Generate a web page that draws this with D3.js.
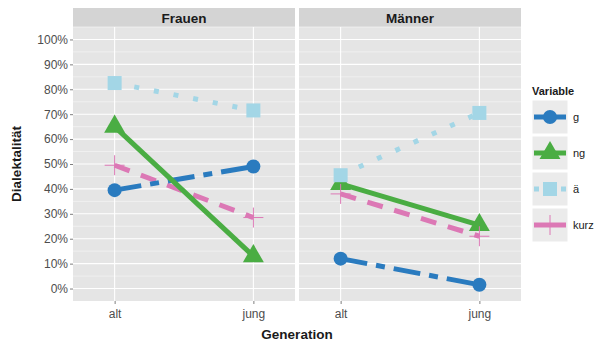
<!DOCTYPE html>
<html><head><meta charset="utf-8">
<script src="https://cdn.jsdelivr.net/npm/d3@7"></script>
<style>body{margin:0;background:#fff}svg{display:block;font-family:"Liberation Sans",Arial,Helvetica,sans-serif}</style>
</head><body><svg id="c" width="595" height="344"></svg>
<script>
const panels = ["Frauen", "Männer"];
const generations = ["alt", "jung"];
const variables = ["g", "ng", "ä", "kurz"];
const yTicks = [0, 0.1, 0.2, 0.3, 0.4, 0.5, 0.6, 0.7, 0.8, 0.9, 1.0];
const frauenG = [0.395, 0.49];
const frauenNg = [0.65, 0.13];
const frauenAe = [0.825, 0.715];
const frauenKurz = [0.495, 0.285];
const maennerG = [0.12, 0.015];
const maennerNg = [0.42, 0.255];
const maennerAe = [0.455, 0.705];
const maennerKurz = [0.38, 0.21];

const values = {
  "Frauen": {"g": frauenG, "ng": frauenNg, "ä": frauenAe, "kurz": frauenKurz},
  "Männer": {"g": maennerG, "ng": maennerNg, "ä": maennerAe, "kurz": maennerKurz}
};
const colors = {"g": "#2a7bbf", "ng": "#4aad43", "ä": "#a3d6e6", "kurz": "#dc78b5"};
const dashes = {"g": "27,9,9,9", "ng": null, "ä": "5,15", "kurz": "16,12"};
const lineW = 5;

const svg = d3.select("#c");
const panelX = {"Frauen": [73, 295], "Männer": [299, 521]};
const pTop = 27, pBottom = 301;
const y = d3.scaleLinear().domain([-0.05, 1.05]).range([pBottom, pTop]);

function shape(g, v, cx, cy) {
  const c = colors[v];
  if (v === "g") g.append("circle").attr("cx", cx).attr("cy", cy).attr("r", 7).attr("fill", c);
  else if (v === "ng") g.append("path").attr("d", d3.symbol(d3.symbolTriangle, 190)()).attr("transform", `translate(${cx},${cy})`).attr("fill", c);
  else if (v === "ä") g.append("rect").attr("x", cx - 7).attr("y", cy - 7).attr("width", 14).attr("height", 14).attr("fill", c);
  else {
    g.append("line").attr("x1", cx - 10).attr("x2", cx + 10).attr("y1", cy).attr("y2", cy).attr("stroke", c).attr("stroke-width", 1);
    g.append("line").attr("x1", cx).attr("x2", cx).attr("y1", cy - 10).attr("y2", cy + 10).attr("stroke", c).attr("stroke-width", 1);
  }
}

panels.forEach(p => {
  const [x0, x1] = panelX[p];
  const x = d3.scalePoint().domain(generations).range([x0, x1]).padding(0.3);
  svg.append("rect").attr("x", x0).attr("y", 8).attr("width", x1 - x0).attr("height", pTop - 8).attr("fill", "#d4d4d4");
  svg.append("text").attr("x", (x0 + x1) / 2).attr("y", 23).attr("text-anchor", "middle")
    .attr("font-size", 13.5).attr("font-weight", "bold").attr("fill", "#1a1a1a").text(p);
  svg.append("rect").attr("x", x0).attr("y", pTop).attr("width", x1 - x0).attr("height", pBottom - pTop).attr("fill", "#e5e5e5");
  const minor = d3.range(-0.05, 1.06, 0.1).filter(v => v > -0.049);
  minor.forEach(v => svg.append("line").attr("x1", x0).attr("x2", x1).attr("y1", y(v)).attr("y2", y(v)).attr("stroke", "#f5f5f5").attr("stroke-width", 0.7));
  yTicks.forEach(v => svg.append("line").attr("x1", x0).attr("x2", x1).attr("y1", y(v)).attr("y2", y(v)).attr("stroke", "#ffffff").attr("stroke-width", 1.1));
  generations.forEach(gen => svg.append("line").attr("x1", x(gen)).attr("x2", x(gen)).attr("y1", pTop).attr("y2", pBottom).attr("stroke", "#ffffff").attr("stroke-width", 1.1));
  const xa = svg.append("g").attr("transform", `translate(0,${pBottom})`)
    .call(d3.axisBottom(x).tickSize(3).tickPadding(5));
  xa.select(".domain").remove();
  xa.selectAll("line").attr("stroke", "#7f7f7f");
  xa.selectAll("text").attr("font-size", 12).attr("fill", "#4d4d4d").attr("font-family", "Liberation Sans, Arial, sans-serif");
  const gl = svg.append("g");
  ["ä", "kurz", "g", "ng"].forEach(v => {
    const line = d3.line().x((d, i) => x(generations[i])).y(d => y(d));
    gl.append("path").attr("d", line(values[p][v])).attr("fill", "none").attr("stroke", colors[v])
      .attr("stroke-width", lineW).attr("stroke-dasharray", dashes[v]);
  });
  const gp = svg.append("g");
  variables.forEach(v => values[p][v].forEach((d, i) => shape(gp, v, x(generations[i]), y(d))));
});

const ya = svg.append("g").attr("transform", `translate(73,0)`)
  .call(d3.axisLeft(y).tickValues(yTicks).tickFormat(d3.format(".0%")).tickSize(3).tickPadding(2));
ya.select(".domain").remove();
ya.selectAll("line").attr("stroke", "#7f7f7f");
ya.selectAll("text").attr("font-size", 12).attr("fill", "#4d4d4d").attr("font-family", "Liberation Sans, Arial, sans-serif");

svg.append("text").attr("transform", "translate(21,164) rotate(-90)").attr("text-anchor", "middle")
  .attr("font-size", 13.5).attr("font-weight", "bold").attr("fill", "#1a1a1a").text("Dialektalität");
svg.append("text").attr("x", 297).attr("y", 339).attr("text-anchor", "middle")
  .attr("font-size", 13.5).attr("font-weight", "bold").attr("fill", "#1a1a1a").text("Generation");

svg.append("text").attr("x", 532).attr("y", 95).attr("font-size", 11).attr("font-weight", "bold").attr("fill", "#1a1a1a").text("Variable");
const lg = svg.append("g");
variables.forEach((v, i) => {
  const cy = 117 + i * 36;
  lg.append("rect").attr("x", 532).attr("y", cy - 17).attr("width", 36).attr("height", 34).attr("fill", "#ebebeb").attr("stroke", "#fff").attr("stroke-width", 1);
  lg.append("line").attr("x1", 534).attr("x2", 566).attr("y1", cy).attr("y2", cy).attr("stroke", colors[v]).attr("stroke-width", lineW)
    .attr("stroke-dasharray", v === "ä" ? "5,4" : null);
  shape(lg, v, 550, cy);
  lg.append("text").attr("x", 573).attr("y", cy + 4).attr("font-size", 11).attr("fill", "#1a1a1a").text(v);
});
</script></body></html>
